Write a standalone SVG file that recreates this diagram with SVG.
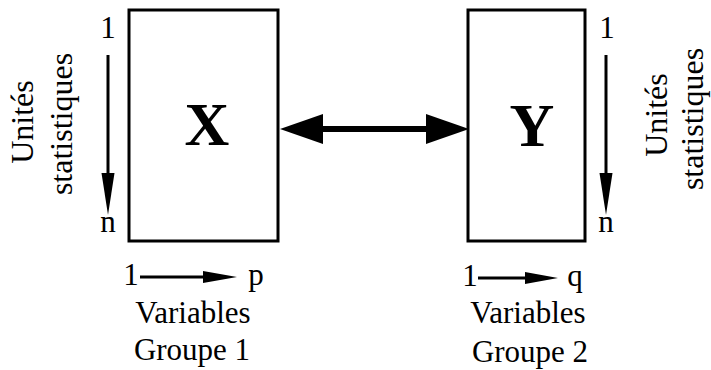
<svg xmlns="http://www.w3.org/2000/svg" width="711" height="370" viewBox="0 0 711 370">
<style>
.box{fill:#fff;stroke:#000;stroke-width:3}
.t{font-family:"Liberation Serif","Times New Roman",serif;font-size:31px;fill:#000;text-anchor:middle}
.big{font-family:"Liberation Serif","Times New Roman",serif;font-size:62px;font-weight:bold;fill:#000;text-anchor:middle}
.s{font-family:"Liberation Serif","Times New Roman",serif;font-size:32px;fill:#000;text-anchor:middle}
.ln{stroke:#000;stroke-width:3;fill:none}
.hd{fill:#000;stroke:none}
</style>
<g id="nodeX">
<rect class="box" x="129" y="10" width="149" height="231"/>
<text class="big" x="207" y="145">X</text>
</g>
<g id="nodeY">
<rect class="box" x="468" y="10" width="117" height="231"/>
<text class="big" x="532" y="146">Y</text>
</g>
<g id="connectors">
<line x1="320" y1="129" x2="430" y2="129" stroke="#000" stroke-width="6"/>
<polygon class="hd" points="280,129 323,114 323,144"/>
<polygon class="hd" points="469,129 426,114 426,144"/>
<line class="ln" x1="108" y1="55" x2="108" y2="180"/>
<polygon class="hd" points="101.5,173 114.5,173 108,215"/>
<line class="ln" x1="606" y1="55" x2="606" y2="180"/>
<polygon class="hd" points="599.5,173 612.5,173 606,215"/>
<line class="ln" x1="140" y1="277" x2="206" y2="277"/>
<polygon class="hd" points="203,271 203,283 237,277"/>
<line class="ln" x1="478" y1="278" x2="528" y2="278"/>
<polygon class="hd" points="525,272 525,284 558,278"/>
</g>
<g id="labelsLeft">
<text class="t" x="108" y="38">1</text>
<text class="t" x="108" y="232">n</text>
<text class="s" transform="translate(33,122) rotate(-90)">Unités</text>
<text class="s" transform="translate(72,124) rotate(-90)">statistiques</text>
<text class="t" x="131" y="285">1</text>
<text class="t" x="256" y="285">p</text>
<text class="t" x="193" y="323">Variables</text>
<text class="t" x="192" y="360">Groupe 1</text>
</g>
<g id="labelsRight">
<text class="t" x="607" y="38">1</text>
<text class="t" x="606" y="232">n</text>
<text class="s" transform="translate(667,115) rotate(-90)">Unités</text>
<text class="s" transform="translate(703,119) rotate(-90)">statistiques</text>
<text class="t" x="470" y="286">1</text>
<text class="t" x="575" y="286">q</text>
<text class="t" x="528" y="323">Variables</text>
<text class="t" x="530" y="362">Groupe 2</text>
</g>
</svg>
